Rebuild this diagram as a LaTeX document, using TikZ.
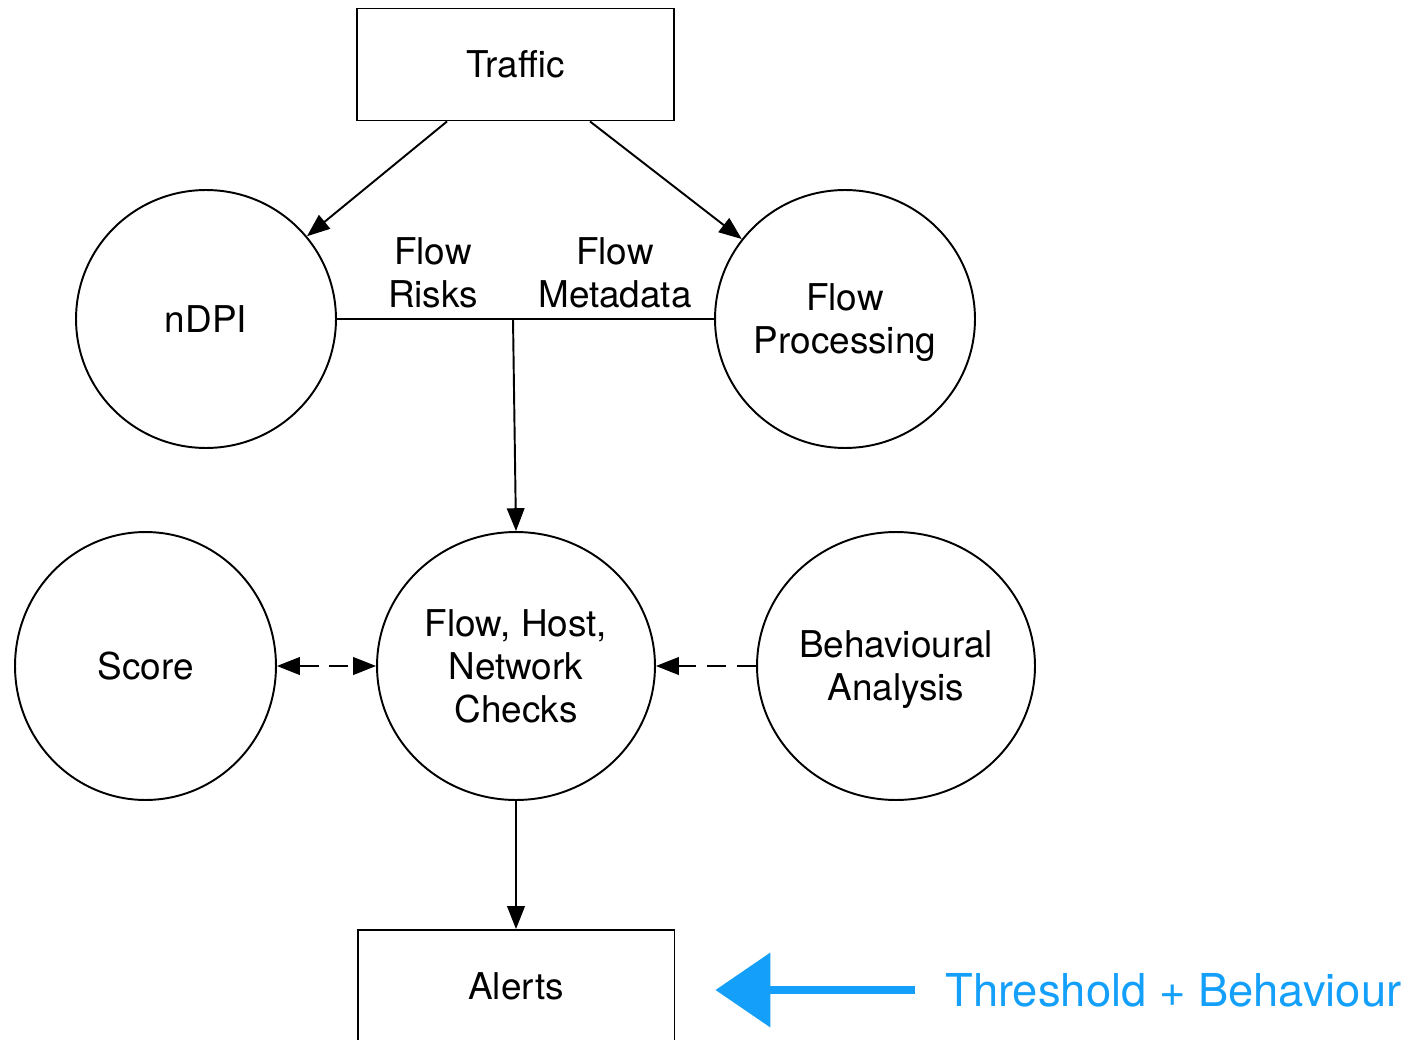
\documentclass[tikz,border=0pt]{standalone}
\usepackage{fontspec}
\setmainfont{TeX Gyre Heros}
\usepackage{xcolor}
\usetikzlibrary{positioning, arrows.meta, shapes.geometric}
\definecolor{skyblue}{RGB}{20,160,250}
\newcommand{\nodepth}[1]{\raisebox{0pt}[\height][0pt]{#1}}

\begin{document}
\begin{tikzpicture}[
    x=0.02cm, y=-0.02cm,
    every node/.style={font=\fontsize{21}{24.5}\selectfont},
    box/.style={rectangle, draw, line width=1.1pt, minimum width=6.34cm, minimum height=2.24cm, align=center},
    bubble/.style={ellipse, draw, line width=1.1pt, inner sep=0pt, align=center},
    link/.style={line width=1.1pt, -{Triangle[length=13pt, width=10pt]}},
    weak/.style={link, dash pattern=on 11pt off 6pt},
    note/.style={text=skyblue, font=\fontsize{25.8}{30}\selectfont}
]
\useasboundingbox (0,0) rectangle (1419,1040);

% Flow
\node[box] (traffic) at (515.5,64.5) {Traffic};
\node[bubble, minimum width=5.2cm, minimum height=5.16cm] (ndpi) at (206,319) {nDPI};
\node[bubble, minimum width=5.2cm, minimum height=5.16cm] (flowproc) at (845,319) {Flow\\\nodepth{Processing}};
\node[bubble, minimum width=5.22cm, minimum height=5.36cm] (score) at (145.5,666) {Score};
\node[bubble, minimum width=5.56cm, minimum height=5.36cm] (checks) at (516,666) {Flow, Host,\\Network\\Checks};
\node[bubble, minimum width=5.56cm, minimum height=5.36cm] (behaviour) at (896,666) {Behavioural\\\nodepth{Analysis}};
\node[box] (alerts) at (516,986) {Alerts};
\coordinate (split) at (513,319);

% Arrows
\draw[link] ([xshift=-1.37cm]traffic.south) -- (ndpi);
\draw[link] ([xshift=1.49cm]traffic.south) -- (flowproc);
\draw[line width=1.1pt] (ndpi) -- (flowproc);
\draw[link] (split) -- (checks.north);
\draw[weak, {Triangle[length=13pt, width=10pt]}-{Triangle[length=13pt, width=10pt]}] (score) -- (checks);
\draw[weak] (behaviour) -- (checks);
\draw[link] (checks) -- (alerts);

% Annotations
\node[anchor=south, inner sep=0pt, align=center] (risks) at (433,308) {Flow\\Risks};
\node[anchor=south, inner sep=0pt, align=center] (metadata) at (615,308) {Flow\\Metadata};
\node[note, anchor=west, inner sep=0pt] (threshold) at (945,990) {Threshold + Behaviour};
\draw[skyblue, line width=0.16cm, -{Triangle[length=1.1cm, width=1.46cm]}, shorten <=0.6cm, shorten >=0.8cm] (threshold.west) -- (threshold.west -| alerts.east);

\end{tikzpicture}
\end{document}
